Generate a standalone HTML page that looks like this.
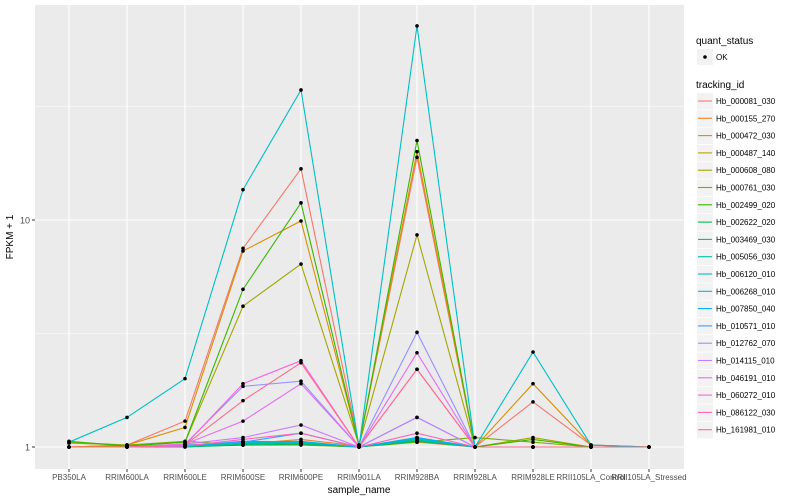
<!DOCTYPE html>
<html><head><meta charset="utf-8"><style>
body{margin:0;background:#fff;}
svg{display:block;font-family:"Liberation Sans",sans-serif;}
</style></head><body>
<svg id="chart" width="800" height="500">
<rect x="35" y="5" width="649" height="464" fill="#ebebeb"/>
<g id="grid"></g><g id="series"></g><g id="axes"></g><g id="legend"></g>
</svg>
<script>
const categories=["PB350LA","RRIM600LA","RRIM600LE","RRIM600SE","RRIM600PE","RRIM901LA","RRIM928BA","RRIM928LA","RRIM928LE","RRII105LA_Control","RRII105LA_Stressed"];
const trackingIds=["Hb_000081_030","Hb_000155_270","Hb_000472_030","Hb_000487_140","Hb_000608_080","Hb_000761_030","Hb_002499_020","Hb_002622_020","Hb_003469_030","Hb_005056_030","Hb_006120_010","Hb_006268_010","Hb_007850_040","Hb_010571_010","Hb_012762_070","Hb_014115_010","Hb_046191_010","Hb_060272_010","Hb_086122_030","Hb_161981_010"];
const colors=["#F8766D","#EA8331","#D89000","#C09B00","#A3A500","#7CAE00","#39B600","#00BB4E","#00BF7D","#00C1A3","#00BFC4","#00BAE0","#00B0F6","#35A2FF","#9590FF","#C77CFF","#E76BF3","#FA62DB","#FF62BC","#FF6C91"];
const s0=[1,1.02,1.3,7.5,16.8,1.02,18.9,1.0,1.58,1.02,1];
const s1=[1,1.01,1.02,1.03,1.08,1.01,1.05,1,1,1,1];
const s2=[1,1.02,1.22,7.3,9.9,1.02,20,1,1.9,1.02,1];
const s3=[1,1.01,1.01,1.02,1.03,1,1.1,1,1,1,1];
const s4=[1.04,1.02,1.05,4.17,6.4,1.02,8.6,1.0,1.1,1,1];
const s5=[1.05,1.02,1.06,1.02,1.02,1,1.05,1.1,1.05,1,1];
const s6=[1.06,1.01,1.05,4.95,11.9,1.01,22.4,1.0,1.08,1,1];
const s7=[1,1,1,1.02,1.03,1,1.06,1,1,1,1];
const s8=[1,1,1,1.03,1.04,1,1.07,1,1,1,1];
const s9=[1,1,1.01,1.04,1.05,1,1.08,1,1,1,1];
const s10=[1.05,1.35,2.0,13.6,37.4,1.0,71.6,1.0,2.62,1.02,1];
const s11=[1,1,1.01,1.05,1.06,1,1.09,1,1,1,1];
const s12=[1,1,1.01,1.06,1.05,1,1.1,1,1,1,1];
const s13=[1,1,1.02,1.05,1.15,1,1.35,1,1,1,1];
const s14=[1,1,1.03,1.85,1.95,1,3.2,1,1,1,1];
const s15=[1,1,1.03,1.1,1.25,1,1.35,1,1,1,1];
const s16=[1,1,1.03,1.3,1.9,1,2.6,1,1,1,1];
const s17=[1,1,1.02,1.9,2.4,1,2.2,1,1,1,1];
const s18=[1,1,1.01,1.08,1.15,1,1.15,1,1,1,1];
const s19=[1,1,1.02,1.6,2.35,1,2.2,1,1,1,1];
const seriesValues=[s0,s1,s2,s3,s4,s5,s6,s7,s8,s9,s10,s11,s12,s13,s14,s15,s16,s17,s18,s19];
const yTicks=[1,10];
const yMinor=[Math.sqrt(10),Math.sqrt(1000)];

const NS="http://www.w3.org/2000/svg";
function mk(tag,attrs,parent){const e=document.createElementNS(NS,tag);for(const k in attrs)e.setAttribute(k,attrs[k]);parent.appendChild(e);return e;}
function xScale(i){return 69+i*58.0;}
function yScale(v){return 447-Math.log10(v)*227;}
const grid=document.getElementById('grid'),ser=document.getElementById('series'),ax=document.getElementById('axes'),leg=document.getElementById('legend');
yMinor.forEach(v=>{const l=mk('line',{x1:35,x2:684,y1:yScale(v),y2:yScale(v),stroke:'#fff','stroke-width':0.6},grid);

});
yTicks.forEach(v=>{const l=mk('line',{x1:35,x2:684,y1:yScale(v),y2:yScale(v),stroke:'#fff','stroke-width':1.1},grid);


const t=mk('text',{x:30,y:yScale(v)+3.5,'text-anchor':'end','font-size':9,fill:'#4d4d4d'},ax);t.textContent=v;


const tk=mk('line',{x1:32,x2:35,y1:yScale(v),y2:yScale(v),stroke:'#333'},ax);

});
categories.forEach((c,i)=>{const l=mk('line',{x1:xScale(i),x2:xScale(i),y1:5,y2:469,stroke:'#fff','stroke-width':1.1},grid);


const tk=mk('line',{x1:xScale(i),x2:xScale(i),y1:469,y2:472,stroke:'#333'},ax);


const t=mk('text',{x:xScale(i),y:480,'text-anchor':'middle','font-size':8,fill:'#4d4d4d'},ax);t.textContent=c;

});
seriesValues.forEach((vals,si)=>{const pts=vals.map((v,i)=>xScale(i)+','+yScale(v)).join(' ');
const p=mk('polyline',{points:pts,fill:'none',stroke:colors[si],'stroke-width':1.1},ser);

});
seriesValues.forEach((vals,si)=>{vals.forEach((v,i)=>{const c=mk('circle',{cx:xScale(i),cy:yScale(v),r:1.8,fill:'#000'},ser);

});});
let t=mk('text',{x:13,y:237,'text-anchor':'middle','font-size':10,fill:'#000',transform:'rotate(-90 13 237)'},ax);t.textContent='FPKM + 1';


t=mk('text',{x:359,y:493,'text-anchor':'middle','font-size':10,fill:'#000'},ax);t.textContent='sample_name';


t=mk('text',{x:696,y:44,'font-size':10,fill:'#000'},leg);t.textContent='quant_status';


let r=mk('rect',{x:697,y:49,width:16,height:16,fill:'#f2f2f2'},leg);


let c=mk('circle',{cx:705,cy:57,r:1.8,fill:'#000'},leg);


t=mk('text',{x:716,y:60,'font-size':8,fill:'#000'},leg);t.textContent='OK';


t=mk('text',{x:696,y:88,'font-size':10,fill:'#000'},leg);t.textContent='tracking_id';


trackingIds.forEach((id,i)=>{const y=101+i*17.3;
const g=mk('g',{},leg);


mk('rect',{x:697,y:y-8,width:16,height:16.5,fill:'#f2f2f2'},g);
mk('line',{x1:698,x2:712,y1:y,y2:y,stroke:colors[i],'stroke-width':1.1},g);
const tt=mk('text',{x:716,y:y+3,'font-size':8,fill:'#000'},g);tt.textContent=id;});
</script>
</body></html>
